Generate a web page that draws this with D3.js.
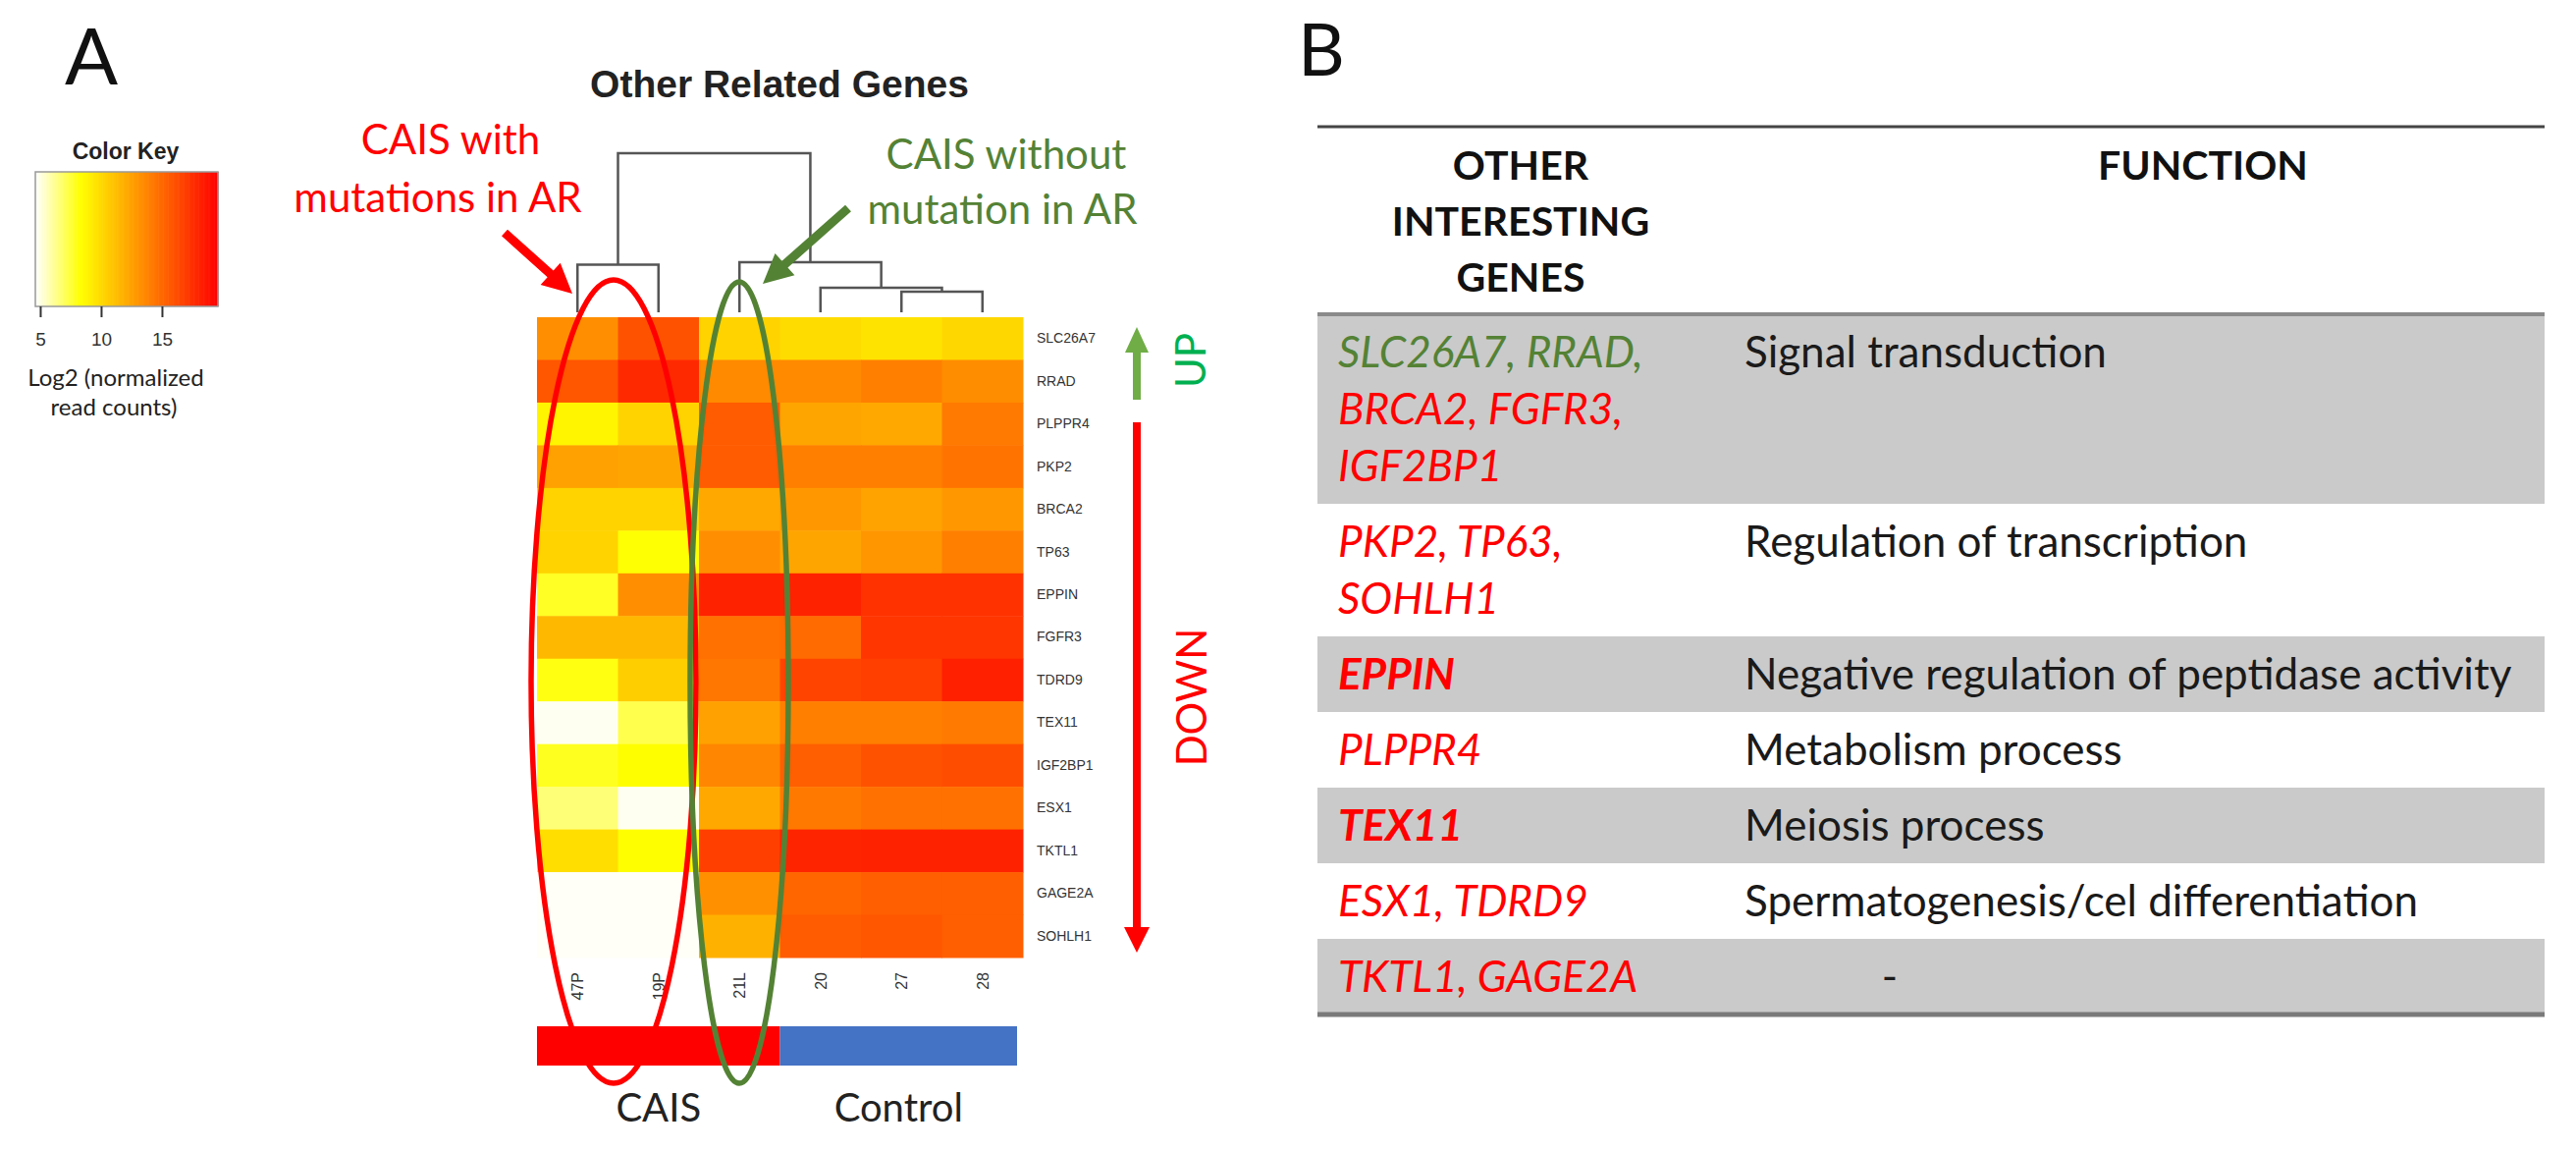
<!DOCTYPE html>
<html>
<head>
<meta charset="utf-8">
<script src="https://cdn.jsdelivr.net/npm/d3@7"></script>
<style>
  body { margin: 0; background: #fff; }
  svg { display: block; }
</style>
</head>
<body>
<svg id="fig" width="2624" height="1172"></svg>
<script>
/* ---- heatmap data ---- */
const genes = ['SLC26A7', 'RRAD', 'PLPPR4', 'PKP2', 'BRCA2', 'TP63', 'EPPIN', 'FGFR3',
  'TDRD9', 'TEX11', 'IGF2BP1', 'ESX1', 'TKTL1', 'GAGE2A', 'SOHLH1'];
const samples = ['47P', '19P', '21L', '20', '27', '28'];
// log2 normalized read counts, one row per gene, columns follow `samples`
const expr = [
  [13.3, 16.0, 10.3, 9.9, 9.6, 10.1],
  [15.8, 17.8, 13.5, 13.5, 14.0, 13.4],
  [8.8, 10.3, 15.6, 12.3, 12.2, 14.2],
  [12.5, 12.3, 15.6, 14.0, 14.0, 14.5],
  [10.3, 10.3, 12.2, 12.9, 12.4, 12.9],
  [10.3, 8.3, 13.3, 12.3, 13.0, 14.0],
  [7.8, 13.3, 18.1, 18.1, 17.4, 17.4],
  [11.5, 11.5, 14.6, 14.9, 17.2, 17.2],
  [8.1, 10.5, 14.4, 16.6, 16.8, 18.2],
  [4.8, 7.2, 12.5, 14.0, 14.0, 14.2],
  [7.9, 8.4, 13.7, 15.4, 16.0, 16.2],
  [6.6, 4.8, 12.2, 14.3, 14.6, 14.6],
  [9.8, 8.4, 16.8, 18.0, 18.1, 18.1],
  [4.7, 4.7, 13.2, 15.1, 15.4, 15.4],
  [4.7, 4.7, 11.8, 15.6, 15.8, 15.4]
];
const keyTicks = [5, 10, 15];
const keyRange = [4.6, 19.6];
const groupNames = ['CAIS', 'Control'];
const groupSamples = [['47P', '19P', '21L'], ['20', '27', '28']];
const upGenes = ['SLC26A7', 'RRAD'];

/* column dendrogram (merge heights) */
const dendro = {
  height: 100, children: [
    { height: 30, children: [{ name: '47P' }, { name: '19P' }] },
    { height: 31.5, children: [
      { name: '21L' },
      { height: 15.4, children: [
        { name: '20' },
        { height: 13, children: [{ name: '27' }, { name: '28' }] }
      ] }
    ] }
  ]
};

/* ---- table B data ---- */
const tableGenes = [
  ['SLC26A7, RRAD,', 'BRCA2, FGFR3,', 'IGF2BP1'],
  ['PKP2, TP63,', 'SOHLH1'],
  ['EPPIN'],
  ['PLPPR4'],
  ['TEX11'],
  ['ESX1, TDRD9'],
  ['TKTL1, GAGE2A']
];
const tableFunctions = ['Signal transduction', 'Regulation of transcription',
  'Negative regulation of peptidase activity', 'Metabolism process', 'Meiosis process',
  'Spermatogenesis/cel differentiation', '-'];
const boldGenes = ['EPPIN', 'TEX11'];

const RED = '#ff0000';
const OLIVE = '#548235';
const svg = d3.select('#fig');

/* ---- scales ---- */
const x = d3.scaleBand().domain(samples).range([547, 1042]);
const y = d3.scaleBand().domain(genes).range([323, 975]);
const color = d3.scaleLinear()
  .domain([keyRange[0], keyRange[0] + (keyRange[1] - keyRange[0]) / 4, keyRange[1]])
  .range(['hsl(60,100%,100%)', 'hsl(60,100%,50%)', 'hsl(0,100%,50%)'])
  .interpolate(d3.interpolateHsl)
  .clamp(true);
const dy = d3.scaleLinear().domain([0, 100]).range([318, 156]);

/* ---- panel labels / titles ---- */
svg.append('text').attr('x', 66).attr('y', 86)
  .style('font', '80px Lato').attr('fill', '#111').text('A');
svg.append('text').attr('x', 1322).attr('y', 77)
  .style('font', '74px Lato').attr('fill', '#111').text('B');
svg.append('text').attr('x', 794).attr('y', 99).attr('text-anchor', 'middle')
  .style('font', 'bold 39px "Liberation Sans"').attr('fill', '#222').text('Other Related Genes');

/* ---- colour key ---- */
const keyX = d3.scaleLinear().domain(keyRange).range([36, 222]);
const key = svg.append('g');
key.append('text').attr('x', 128).attr('y', 162).attr('text-anchor', 'middle')
  .style('font', 'bold 23px "Liberation Sans"').attr('fill', '#222').text('Color Key');
key.selectAll('rect.k')
  .data(d3.range(keyRange[0], keyRange[1], 0.1))
  .join('rect')
  .attr('x', d => keyX(d))
  .attr('width', keyX(keyRange[0] + 0.1) - keyX(keyRange[0]) + 0.6)
  .attr('y', 175).attr('height', 137)
  .attr('fill', d => color(d + 0.05));
key.append('rect').attr('x', 36).attr('y', 175).attr('width', 186).attr('height', 137)
  .attr('fill', 'none').attr('stroke', '#999').attr('stroke-width', 1.5);
const keyAxis = d3.axisBottom(keyX).tickValues(keyTicks).tickSize(11).tickPadding(16);
key.append('g').attr('transform', 'translate(0,312)').call(keyAxis)
  .call(g => g.select('.domain').remove())
  .call(g => g.selectAll('line').attr('stroke', '#333').attr('stroke-width', 2))
  .call(g => g.selectAll('text').style('font', '19px "Liberation Sans"').attr('fill', '#333'));
key.append('text').attr('x', 118).attr('y', 393).attr('text-anchor', 'middle')
  .style('font', '24px Lato').attr('fill', '#222').text('Log2 (normalized');
key.append('text').attr('x', 116).attr('y', 423).attr('text-anchor', 'middle')
  .style('font', '24px Lato').attr('fill', '#222').text('read counts)');

/* ---- dendrogram ---- */
const root = d3.hierarchy(dendro);
root.eachAfter(n => {
  n.px = n.children ? d3.mean(n.children, c => c.px) : x(n.data.name) + x.bandwidth() / 2;
  n.h = n.children ? n.data.height : 0;
});
const dg = svg.append('g').attr('stroke', '#555').attr('stroke-width', 2.5).attr('fill', 'none');
root.descendants().filter(n => n.children).forEach(n => {
  const [a, b] = n.children;
  dg.append('path').attr('d',
    `M${a.px},${dy(a.h)}V${dy(n.h)}H${b.px}V${dy(b.h)}`);
});

/* ---- heatmap ---- */
const cells = genes.flatMap((g, i) => samples.map((s, j) => ({ gene: g, sample: s, v: expr[i][j] })));
svg.append('g').selectAll('rect')
  .data(cells)
  .join('rect')
  .attr('x', d => x(d.sample))
  .attr('y', d => y(d.gene))
  .attr('width', x.bandwidth() + 0.5)
  .attr('height', y.bandwidth() + 0.5)
  .attr('fill', d => color(d.v));

const rowAxis = d3.axisRight(y).tickSize(0).tickPadding(14);
svg.append('g').attr('transform', 'translate(1042,0)').call(rowAxis)
  .call(g => g.select('.domain').remove())
  .call(g => g.selectAll('text').style('font', '14px "Liberation Sans"').attr('fill', '#333'));

svg.append('g').selectAll('text')
  .data(samples)
  .join('text')
  .attr('transform', d => `translate(${x(d) + x.bandwidth() / 2 + 6},990) rotate(-90)`)
  .attr('text-anchor', 'end')
  .style('font', '16px "Liberation Sans"').attr('fill', '#333')
  .text(d => d);

/* group bar */
const bar = svg.append('g');
groupNames.forEach((name, i) => {
  const s = groupSamples[i];
  const x0 = x(s[0]);
  const x1 = x(s[s.length - 1]) + x.bandwidth() - (i === 1 ? 6 : 0);
  bar.append('rect').attr('x', x0).attr('y', 1045).attr('width', x1 - x0).attr('height', 40)
    .attr('fill', i === 0 ? RED : '#4472c4');
  bar.append('text').attr('x', (x0 + x1) / 2).attr('y', 1142).attr('text-anchor', 'middle')
    .style('font', '40px Lato').attr('fill', '#222').text(name);
});

/* ---- annotations ---- */
function arrow(x1, y1, x2, y2, w, hl, hw, fill) {
  const a = Math.atan2(y2 - y1, x2 - x1);
  const len = Math.hypot(x2 - x1, y2 - y1);
  const pts = [[0, -w / 2], [len - hl, -w / 2], [len - hl, -hw / 2], [len, 0],
    [len - hl, hw / 2], [len - hl, w / 2], [0, w / 2]];
  svg.append('polygon')
    .attr('points', pts.map(p => p.join(',')).join(' '))
    .attr('transform', `translate(${x1},${y1}) rotate(${a * 180 / Math.PI})`)
    .attr('fill', fill);
}

svg.append('ellipse').attr('cx', 625).attr('cy', 694).attr('rx', 84).attr('ry', 409)
  .attr('fill', 'none').attr('stroke', RED).attr('stroke-width', 5.5);
svg.append('ellipse').attr('cx', 753).attr('cy', 695).attr('rx', 50).attr('ry', 408)
  .attr('fill', 'none').attr('stroke', OLIVE).attr('stroke-width', 5.5);

svg.append('text').attr('x', 459).attr('y', 157).attr('text-anchor', 'middle')
  .style('font', '42px Lato').attr('fill', RED).text('CAIS with');
svg.append('text').attr('x', 446).attr('y', 216).attr('text-anchor', 'middle')
  .style('font', '42px Lato').attr('fill', RED).text('mutations in AR');
svg.append('text').attr('x', 1025).attr('y', 172).attr('text-anchor', 'middle')
  .style('font', '42px Lato').attr('fill', OLIVE).text('CAIS without');
svg.append('text').attr('x', 1021).attr('y', 228).attr('text-anchor', 'middle')
  .style('font', '42px Lato').attr('fill', OLIVE).text('mutation in AR');

arrow(514, 237, 583, 299, 9, 30, 30, RED);
arrow(864, 212, 777, 289, 9, 30, 30, OLIVE);

const upY = [y(upGenes[0]) + 10, y(upGenes[upGenes.length - 1]) + y.bandwidth()];
arrow(1158, upY[1] - 3, 1158, upY[0], 8, 26, 24, '#70ad47');
arrow(1158, upY[1] + 20, 1158, 970, 8, 26, 26, RED);
svg.append('text').attr('transform', 'translate(1212,367) rotate(-90)')
  .attr('text-anchor', 'middle').attr('dominant-baseline', 'central')
  .style('font', '42px Lato').attr('fill', '#00b050').text('UP');
svg.append('text').attr('transform', 'translate(1213,710) rotate(-90)')
  .attr('text-anchor', 'middle').attr('dominant-baseline', 'central')
  .style('font', '42px Lato').attr('fill', RED).text('DOWN');

/* ---- table B ---- */
const tb = svg.append('g');
const tLeft = 1342, tRight = 2592, headBottom = 320, lineH = 58, pad = 19;
let rowTop = headBottom;
tableGenes.forEach((lines, i) => {
  const h = lines.length * lineH + pad;
  if (i % 2 === 0) {
    tb.append('rect').attr('x', tLeft).attr('y', rowTop).attr('width', tRight - tLeft).attr('height', h)
      .attr('fill', '#cacaca');
  }
  lines.forEach((t, k) => {
    const isUp = upGenes.some(g => t.startsWith(g));
    tb.append('text').attr('x', 1363).attr('y', rowTop + 9.5 + lineH / 2 + 15 + k * lineH)
      .style('font', `italic ${boldGenes.includes(t) ? 'bold ' : ''}44px Lato`)
      .attr('fill', isUp ? OLIVE : RED).text(t);
  });
  const fn = tableFunctions[i];
  tb.append('text').attr('x', fn === '-' ? 1925 : 1777).attr('y', rowTop + 9.5 + lineH / 2 + 15)
    .attr('text-anchor', fn === '-' ? 'middle' : 'start')
    .style('font', '44px Lato').attr('fill', '#1a1a1a').text(fn);
  rowTop += h;
});
tb.append('line').attr('x1', tLeft).attr('x2', tRight).attr('y1', 129).attr('y2', 129)
  .attr('stroke', '#444').attr('stroke-width', 3);
tb.append('line').attr('x1', tLeft).attr('x2', tRight).attr('y1', headBottom).attr('y2', headBottom)
  .attr('stroke', '#8a8a8a').attr('stroke-width', 4);
tb.append('line').attr('x1', tLeft).attr('x2', tRight).attr('y1', rowTop).attr('y2', rowTop)
  .attr('stroke', '#7a7a7a').attr('stroke-width', 5);
['OTHER', 'INTERESTING', 'GENES'].forEach((t, k) => {
  tb.append('text').attr('x', 1549).attr('y', 183 + k * 57).attr('text-anchor', 'middle')
    .style('font', 'bold 41px Lato').attr('fill', '#111').text(t);
});
tb.append('text').attr('x', 2244).attr('y', 183).attr('text-anchor', 'middle')
  .style('font', 'bold 41px Lato').attr('fill', '#111').text('FUNCTION');
</script>
</body>
</html>
